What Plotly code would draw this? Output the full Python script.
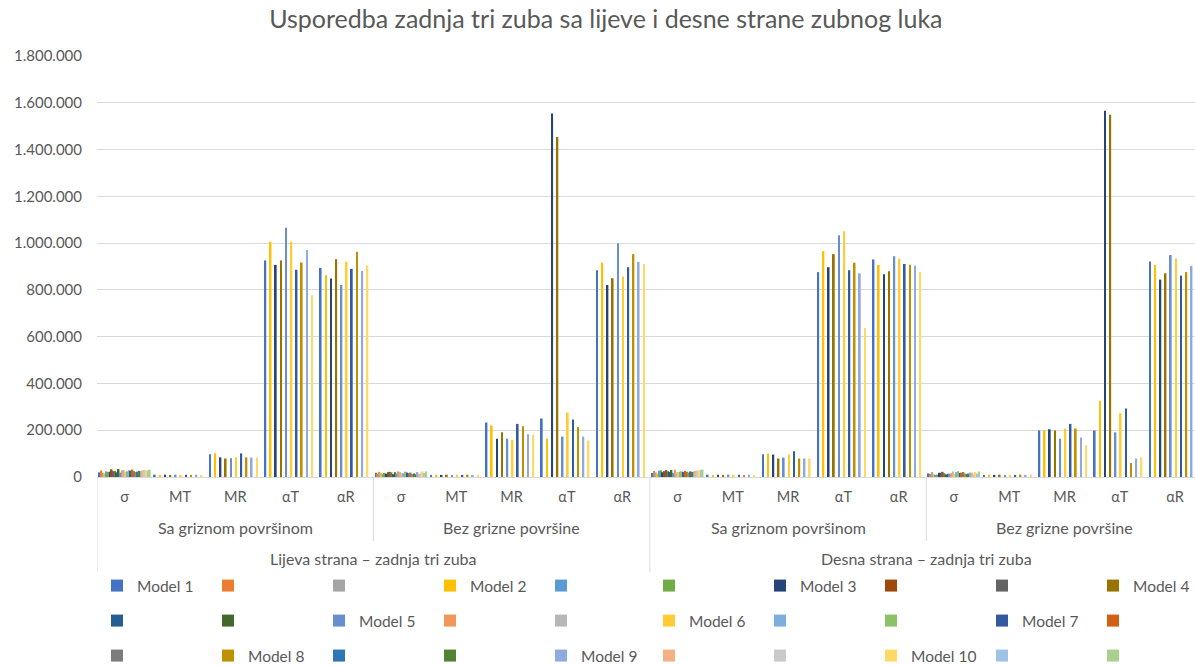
import plotly.graph_objects as go

# ---------------- data ----------------
params = ["σ", "MT", "MR", "αT", "αR"]
surfaces = ["Sa griznom površinom", "Bez grizne površine"]
sides = ["Lijeva strana – zadnja tri zuba", "Desna strana – zadnja tri zuba"]

# order of values per model: [σ, MT, MR, αT, αR] x (L-Sa, L-Bez, D-Sa, D-Bez)
model_1 = [20000, 10000, 97000, 926000, 894000, 18000, 9000, 233000, 250000, 884000,
           17000, 10000, 97000, 876000, 930000, 15000, 9000, 199000, 199000, 921000]
model_2 = [16000, 9000, 101000, 1006000, 863000, 17000, 10000, 221000, 164000, 916000,
           14000, 9000, 100000, 966000, 907000, 12000, 10000, 199000, 326000, 907000]
model_3 = [22000, 10000, 84000, 907000, 849000, 14000, 9000, 164000, 1554000, 821000,
           20000, 10000, 96000, 897000, 867000, 18000, 9000, 204000, 1566000, 844000]
model_4 = [26000, 9000, 79000, 926000, 931000, 20000, 10000, 191000, 1454000, 850000,
           25000, 9000, 79000, 953000, 880000, 16000, 10000, 199000, 1549000, 871000]
model_5 = [19000, 10000, 80000, 1066000, 821000, 15000, 9000, 164000, 173000, 999000,
           18000, 10000, 83000, 1034000, 944000, 14000, 9000, 164000, 191000, 949000]
model_6 = [24000, 9000, 84000, 1006000, 921000, 16000, 10000, 159000, 276000, 857000,
           22000, 9000, 96000, 1051000, 934000, 13000, 10000, 207000, 273000, 934000]
model_7 = [27000, 10000, 101000, 886000, 890000, 19000, 9000, 227000, 246000, 897000,
           21000, 10000, 110000, 884000, 911000, 17000, 9000, 227000, 293000, 861000]
model_8 = [21000, 9000, 84000, 917000, 963000, 13000, 10000, 217000, 213000, 953000,
           19000, 9000, 79000, 916000, 907000, 15000, 10000, 207000, 60000, 876000]
model_9 = [25000, 10000, 83000, 971000, 881000, 21000, 9000, 183000, 173000, 920000,
           23000, 10000, 79000, 871000, 903000, 19000, 9000, 169000, 79000, 903000]
model_10 = [30000, 9000, 83000, 777000, 904000, 24000, 10000, 181000, 156000, 911000,
            28000, 9000, 79000, 637000, 876000, 21000, 10000, 136000, 83000, 924000]

# unnamed series: values only in the σ category of each of the four groups
extra_2 = [28000, 15000, 26000, 12000]
extra_3 = [18000, 22000, 20000, 21000]
extra_5 = [24000, 12000, 27000, 9000]
extra_6 = [22000, 18000, 29000, 10000]
extra_8 = [33000, 20000, 25000, 18000]
extra_9 = [25000, 22000, 30000, 22000]
extra_11 = [20000, 12000, 22000, 11000]
extra_12 = [34000, 20000, 30000, 14000]
extra_14 = [28000, 24000, 31000, 16000]
extra_15 = [30000, 21000, 20000, 23000]
extra_17 = [24000, 16000, 22000, 21000]
extra_18 = [29000, 23000, 24000, 25000]
extra_20 = [32000, 16000, 26000, 19000]
extra_21 = [25000, 19000, 22000, 21000]
extra_23 = [23000, 15000, 24000, 13000]
extra_24 = [26000, 12000, 22000, 15000]
extra_26 = [28000, 13000, 27000, 18000]
extra_27 = [30000, 18000, 28000, 12000]
extra_29 = [27000, 17000, 30000, 14000]
extra_30 = [31000, 24000, 32000, 23000]

colors = ["#4472C4", "#ED7D31", "#A5A5A5", "#FFC000", "#5B9BD5", "#70AD47",
          "#264478", "#9E480E", "#636363", "#997300", "#255E91", "#43682B",
          "#698ED0", "#F1975A", "#B7B7B7", "#FFCD33", "#7CAFDD", "#8CC168",
          "#335AA1", "#D26012", "#7C7C7C", "#BF9000", "#2E75B6", "#548235",
          "#8FAADC", "#F4B183", "#C9C9C9", "#FFD966", "#9DC3E6", "#A9D18E"]

models = {1: model_1, 4: model_2, 7: model_3, 10: model_4, 13: model_5,
          16: model_6, 19: model_7, 22: model_8, 25: model_9, 28: model_10}
extras = {2: extra_2, 3: extra_3, 5: extra_5, 6: extra_6, 8: extra_8, 9: extra_9,
          11: extra_11, 12: extra_12, 14: extra_14, 15: extra_15, 17: extra_17,
          18: extra_18, 20: extra_20, 21: extra_21, 23: extra_23, 24: extra_24,
          26: extra_26, 27: extra_27, 29: extra_29, 30: extra_30}

# ---------------- figure ----------------
ncat = len(params) * len(surfaces) * len(sides)
xs = list(range(ncat))
ticktext = params * (len(surfaces) * len(sides))

FONT = "Lato, 'Open Sans', sans-serif"
GREY = "#595959"
W, H = 1195, 666

legend_names = ["legend", "legend2", "legend3", "legend4", "legend5", "legend6"]

fig = go.Figure()
model_no = 0
for k in range(1, 31):
    if k in models:
        model_no += 1
        vals = models[k]
        name = f"Model {model_no}"
    else:
        vals = [None] * ncat
        for g, v in enumerate(extras[k]):
            vals[g * len(params)] = v
        name = " "
    row = (k - 1) // 10
    half = ((k - 1) % 10) // 5
    leg = legend_names[row * 2 + half]
    fig.add_trace(go.Bar(x=xs, y=vals, name=name, marker_color=colors[k - 1],
                         marker_line_width=0, legend=leg))

fig.update_layout(
    width=W, height=H,
    margin=dict(l=97, r=0, t=56, b=189),
    paper_bgcolor="white", plot_bgcolor="white",
    barmode="group", bargap=0.06, bargroupgap=0,
    separators=",.",
    font=dict(family=FONT, color=GREY, size=14),
    title=dict(text="Usporedba zadnja tri zuba sa lijeve i desne strane zubnog luka",
               x=0.507, xref="container", y=1 - 19 / H, yref="container",
               xanchor="center", yanchor="middle",
               font=dict(family=FONT, size=25, color=GREY)),
    xaxis=dict(range=[-0.5, 19.36], tickvals=xs, ticktext=ticktext,
               showgrid=False, zeroline=False, showline=True, linecolor="#D9D9D9",
               ticks="", ticklabelstandoff=7, tickfont=dict(size=14.5, color=GREY)),
    yaxis=dict(range=[0, 1800000], dtick=200000, tickformat=",.0f",
               showgrid=True, gridcolor="#D9D9D9", gridwidth=1, zeroline=False,
               ticks="", ticklabelstandoff=14, tickfont=dict(size=15, color=GREY)),
)

legend_common = dict(orientation="h", xref="container", yref="container",
                     xanchor="left", yanchor="middle", entrywidth=66,
                     entrywidthmode="pixels", font=dict(size=15.5, color=GREY),
                     bgcolor="rgba(0,0,0,0)", itemclick=False, itemdoubleclick=False)
row_y = [586, 621, 656]
col_x = [97, 649]
legend_cfg = {}
for r, yy in enumerate(row_y):
    for c, xx in enumerate(col_x):
        legend_cfg[legend_names[r * 2 + c]] = dict(x=xx / W, y=1 - yy / H, **legend_common)
fig.update_layout(**legend_cfg)

# multi-level category labels
ph = H - 56 - 189
def py(ypix):
    return (477 - ypix) / ph

ngrp = len(params)
for s_i, side in enumerate(sides):
    for f_i, surf in enumerate(surfaces):
        g = s_i * len(surfaces) + f_i
        fig.add_annotation(x=g * ngrp + (ngrp - 1) / 2, y=py(527), xref="x", yref="paper",
                           text=surf, showarrow=False, yanchor="middle",
                           font=dict(size=16, color=GREY))
    start = s_i * len(surfaces) * ngrp
    fig.add_annotation(x=start + (len(surfaces) * ngrp - 1) / 2, y=py(558), xref="x",
                       yref="paper", text=side, showarrow=False, yanchor="middle",
                       font=dict(size=16, color=GREY))

# separator lines
for g in range(len(sides) * len(surfaces)):
    xb = g * ngrp - 0.5
    bottom = py(572) if g % len(surfaces) == 0 else py(541)
    fig.add_shape(type="line", x0=xb, x1=xb, y0=0, y1=bottom, xref="x", yref="paper",
                  line=dict(color="#D9D9D9", width=1), layer="above")

fig.write_html("out.html", config={"displayModeBar": False},
               post_script="document.body.style.margin='0';document.body.style.overflow='hidden';")
